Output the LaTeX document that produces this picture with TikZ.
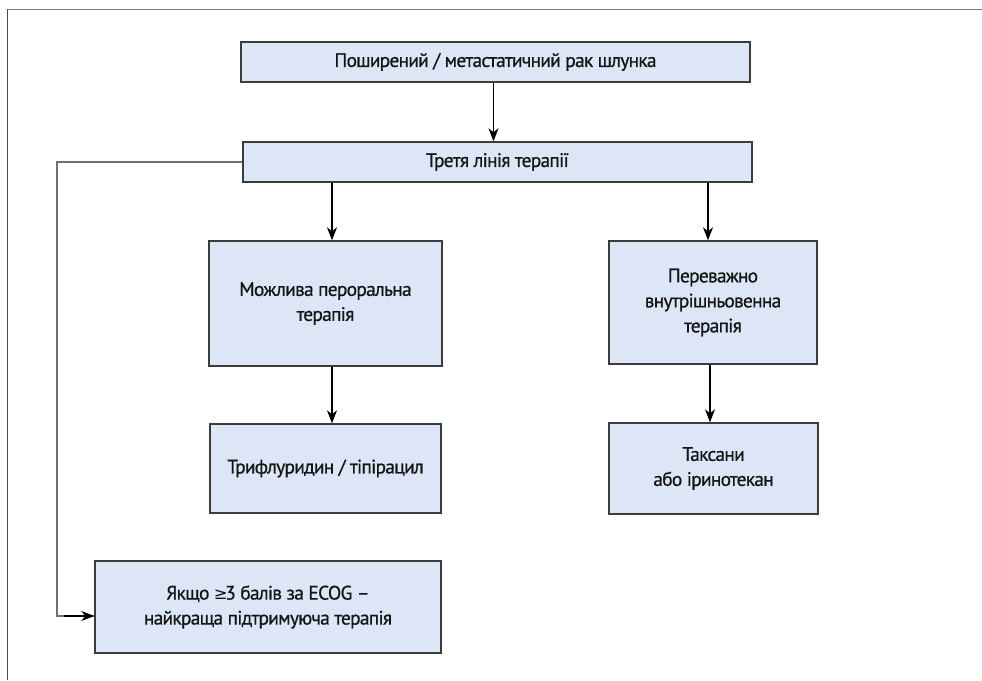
\documentclass[tikz,border=0pt]{standalone}
\usepackage{fontspec}
\setmainfont{PT Sans}[LetterSpace=-4, FakeBold=0.6]
\newfontfamily\symfont{DejaVu Sans}
\usetikzlibrary{arrows.meta}
\definecolor{boxfill}{HTML}{DCE6F6}
\definecolor{boxline}{HTML}{3C3C3C}
\definecolor{frameline}{HTML}{7A7A7A}
\definecolor{connline}{HTML}{707070}
\definecolor{txt}{HTML}{141414}
\begin{document}
\begin{tikzpicture}[x=1pt,y=-1pt,
  flowbox/.style={draw=boxline, line width=1.4pt, fill=boxfill, inner sep=0pt,
    text=txt, align=center, font=\fontsize{19.5}{25}\selectfont},
  arr/.style={draw=black, line width=1.1pt, -{Stealth[length=13pt,width=10pt,inset=4pt]}},
  conn/.style={draw=connline, line width=1.3pt}]
\useasboundingbox (0,0) rectangle (982,680);
\fill[white] (0,0) rectangle (982,680);
% frame
\draw[frameline, line width=1.8pt] (7,9.5) -- (982,9.5);
\draw[black!70, line width=1.6pt] (7.3,9) -- (7.3,680);
% boxes
\node[flowbox, minimum width=509pt, minimum height=40pt] (b1) at (495.5,62) {Поширений / метастатичний рак шлунка};
\node[flowbox, minimum width=509pt, minimum height=40pt] (b2) at (497.5,162) {Третя лінія терапії};
\node[flowbox, minimum width=233pt, minimum height=125pt] (b3) at (325.5,303.5) {Можлива пероральна\\терапія};
\node[flowbox, minimum width=208pt, minimum height=123pt] (b4) at (713,302.5) {Переважно\\внутрішньовенна\\терапія};
\node[flowbox, minimum width=231pt, minimum height=89pt] (b5) at (325.5,468.5) {Трифлуридин / тіпірацил};
\node[flowbox, minimum width=209pt, minimum height=91pt] (b6) at (713.5,468.5) {Таксани\\або іринотекан};
\node[flowbox, minimum width=346pt, minimum height=92pt] (b7) at (268,607) {Якщо {\symfont\fontsize{16.5}{25}\selectfont ≥}\kern-2.5pt3 балів за ECOG –\\найкраща підтримуюча терапія};
% connectors
\draw[arr] ([xshift=-2pt]b1.south) -- ([xshift=-2pt]b1.south |- b2.north);
\draw[arr] ([xshift=6.5pt]b3.north |- b2.south) -- ([xshift=6.5pt]b3.north);
\draw[arr] ([xshift=-5pt]b4.north |- b2.south) -- ([xshift=-5pt]b4.north);
\draw[arr] ([xshift=6.5pt]b3.south) -- ([xshift=6.5pt]b5.north);
\draw[arr] ([xshift=-3pt]b4.south) -- ([xshift=-3pt]b4.south |- b6.north);
\coordinate (c1) at (57,162);
\coordinate (c2) at (57,616);
\draw[conn] (b2.west) -- (c1) -- (c2) -- ([yshift=-9pt]b7.west);
\draw[arr] ([xshift=-30pt,yshift=-9pt]b7.west) -- ([yshift=-9pt]b7.west);
\end{tikzpicture}
\end{document}
